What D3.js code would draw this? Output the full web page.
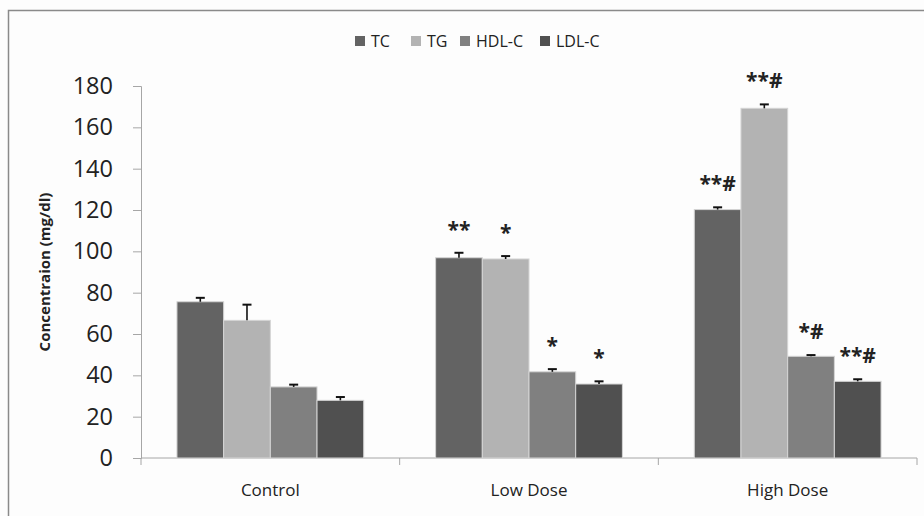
<!DOCTYPE html>
<html>
<head>
<meta charset="utf-8">
<script src="https://cdn.jsdelivr.net/npm/d3@7"></script>
<style>
	body { margin: 0; background: #fdfdfd; }
	text { font-family: "Open Sans", sans-serif; fill: #222; }
</style>
</head>
<body>
<div id="chart"></div>
<script>
/**
 * Chart data.
 */
var groups = ["Control", "Low Dose", "High Dose"]; // Categories.
var series = ["TC", "TG", "HDL-C", "LDL-C"]; // Lipid measures.
var colors = ["#636363", "#b3b3b3", "#808080", "#505050"];

var meanTC = [75.6, 96.9, 120.2];
var meanTG = [66.6, 96.3, 169.2];
var meanHDL = [34.4, 41.7, 49.2];
var meanLDL = [27.9, 35.8, 37.1];

var errTC = [1.9, 2.4, 1.1];
var errTG = [7.6, 1.4, 1.9];
var errHDL = [1.1, 1.3, 0.6];
var errLDL = [1.6, 1.3, 1.0];

var sigTC = ["", "**", "**#"];
var sigTG = ["", "*", "**#"];
var sigHDL = ["", "*", "*#"];
var sigLDL = ["", "*", "**#"];

var yTicks = [0, 20, 40, 60, 80, 100, 120, 140, 160, 180];

{
	var width = 924,
		height = 516,
		margin = {
			top: 86,
			right: 7,
			bottom: 58,
			left: 141
		};

	var means = [meanTC, meanTG, meanHDL, meanLDL],
		errs = [errTC, errTG, errHDL, errLDL],
		sigs = [sigTC, sigTG, sigHDL, sigLDL];

	// Flatten into one row per bar.
	var rows = [];
	groups.forEach(function (g, gi) {
		series.forEach(function (s, si) {
			rows.push({
				group: g,
				series: s,
				value: means[si][gi],
				err: errs[si][gi],
				sig: sigs[si][gi],
				color: colors[si]
			});
		});
	});

	var svg = d3.select("#chart").append("svg")
		.attr("width", width)
		.attr("height", height);

	// Outer frame (only the top and left edges show in the picture).
	svg.append("rect")
		.attr("x", 8.5)
		.attr("y", 10.5)
		.attr("width", 930)
		.attr("height", 530)
		.attr("fill", "#fdfdfd")
		.attr("stroke", "#8a8a8a")
		.attr("stroke-width", 1.5);

	var x0 = d3.scaleBand()
		.domain(groups)
		.range([margin.left, width - margin.right]);

	var x1 = d3.scaleBand()
		.domain(series)
		.range([0, x0.bandwidth()])
		.paddingOuter(0.77);

	var y = d3.scaleLinear()
		.domain([0, 180])
		.range([height - margin.bottom, margin.top]);

	// Y axis.
	var yAxis = svg.append("g")
		.attr("transform", "translate(" + margin.left + ",0)")
		.call(d3.axisLeft(y).tickValues(yTicks).tickSize(8).tickPadding(20));
	yAxis.select(".domain").attr("stroke", "#a6a6a6");
	yAxis.selectAll(".tick line").attr("stroke", "#a6a6a6");
	yAxis.selectAll(".tick text")
		.style("font-size", "23.5px")
		.attr("fill", "#222");

	// X axis with tick marks on the group borders.
	var xAxis = svg.append("g")
		.attr("transform", "translate(0," + y(0) + ")");
	xAxis.append("line")
		.attr("x1", margin.left)
		.attr("x2", width - margin.right)
		.attr("stroke", "#a6a6a6");
	var borders = groups.map(function (g) { return x0(g); }).concat([width - margin.right]);
	xAxis.selectAll(".xtick")
		.data(borders)
		.enter().append("line")
		.attr("class", "xtick")
		.attr("x1", function (d) { return d; })
		.attr("x2", function (d) { return d; })
		.attr("y1", 0)
		.attr("y2", 7)
		.attr("stroke", "#a6a6a6");
	xAxis.selectAll(".xlabel")
		.data(groups)
		.enter().append("text")
		.attr("class", "xlabel")
		.attr("x", function (d) { return x0(d) + x0.bandwidth() / 2; })
		.attr("y", 38)
		.attr("text-anchor", "middle")
		.style("font-size", "17px")
		.text(function (d) { return d; });

	// Y axis title.
	svg.append("text")
		.attr("transform", "translate(50," + (y(90)) + ") rotate(-90)")
		.attr("text-anchor", "middle")
		.style("font-size", "15px")
		.style("font-weight", "bold")
		.text("Concentraion (mg/dl)");

	// Bars.
	var bar = svg.selectAll(".bar")
		.data(rows)
		.enter().append("g")
		.attr("class", "bar")
		.attr("transform", function (d) {
			return "translate(" + (x0(d.group) + x1(d.series)) + ",0)";
		});

	bar.append("rect")
		.attr("y", function (d) { return y(d.value); })
		.attr("width", x1.bandwidth())
		.attr("height", function (d) { return y(0) - y(d.value); })
		.attr("fill", function (d) { return d.color; })
		.attr("stroke", "#d4d4d4")
		.attr("stroke-width", 1);

	// Error bars (upper half only).
	var cx = x1.bandwidth() / 2;
	bar.append("line")
		.attr("x1", cx)
		.attr("x2", cx)
		.attr("y1", function (d) { return y(d.value); })
		.attr("y2", function (d) { return y(d.value + d.err); })
		.attr("stroke", "#111")
		.attr("stroke-width", 1.6);
	bar.append("line")
		.attr("x1", cx - 4.5)
		.attr("x2", cx + 4.5)
		.attr("y1", function (d) { return y(d.value + d.err); })
		.attr("y2", function (d) { return y(d.value + d.err); })
		.attr("stroke", "#111")
		.attr("stroke-width", 2);

	// Significance marks.
	bar.append("text")
		.attr("x", cx)
		.attr("y", function (d) { return y(d.value + d.err) - 16; })
		.attr("text-anchor", "middle")
		.style("font-size", "21px")
		.style("font-weight", "bold")
		.text(function (d) { return d.sig; });

	// Legend.
	var legendX = [355, 411, 460, 540];
	var legend = svg.selectAll(".legend")
		.data(series)
		.enter().append("g")
		.attr("class", "legend")
		.attr("transform", function (d, i) {
			return "translate(" + legendX[i] + ",36)";
		});
	legend.append("rect")
		.attr("width", 10)
		.attr("height", 10)
		.attr("fill", function (d, i) { return colors[i]; });
	legend.append("text")
		.attr("x", 16)
		.attr("y", 11)
		.style("font-size", "16px")
		.text(function (d) { return d; });
}
</script>
</body>
</html>
